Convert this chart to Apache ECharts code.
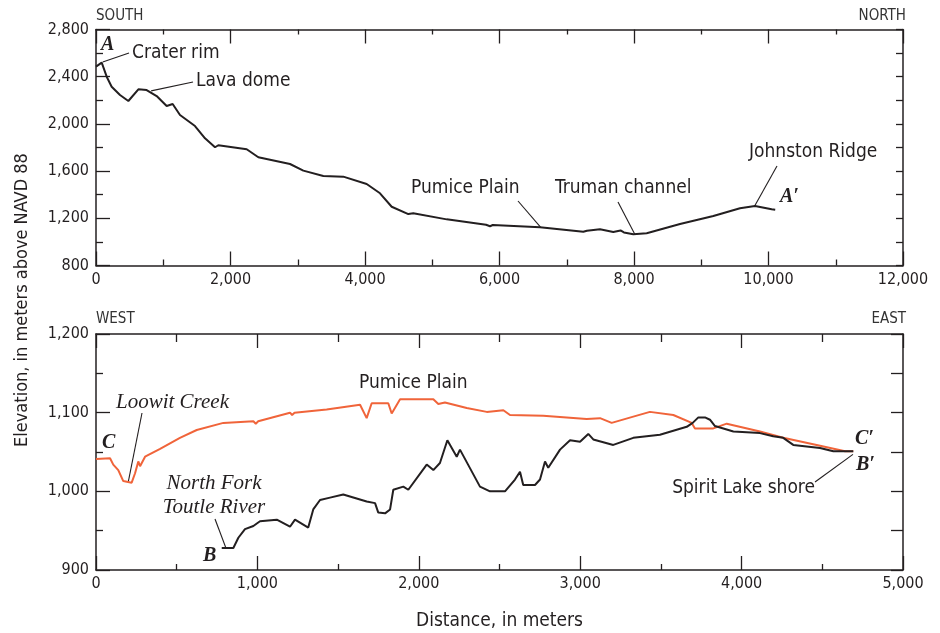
<!DOCTYPE html>
<html><head><meta charset="utf-8">
<script src="https://cdn.jsdelivr.net/npm/echarts@6/dist/echarts.min.js"></script>
<style>html,body{margin:0;padding:0;background:#fff}#c{width:940px;height:633px}</style>
</head><body><div id="c"></div>
<script>
// ---- Data: profile A–A' (distance m, elevation m) ----
const profileA_x = [0,85,159,233,357,481,630,753,902,1051,1140,1249,1472,1621,1770,1819,2241,2414,2885,3083,3380,3677,4025,4223,4397,4644,4718,5215,5800,5859,5900,6602,7246,7300,7494,7692,7800,7850,7990,8189,8684,9180,9576,9799,10047,10100];
const profileA_y = [2485,2519,2400,2315,2245,2194,2293,2287,2236,2152,2169,2075,1982,1878,1802,1819,1785,1717,1660,1604,1558,1553,1491,1412,1298,1236,1242,1191,1145,1133,1143,1124,1086,1095,1107,1084,1097,1080,1064,1073,1152,1219,1285,1304,1276,1272];
// ---- Profile C–C' (orange) ----
const profileC_x = [0,87,107,138,169,221,242,262,273,304,397,520,624,789,975,990,1005,1202,1215,1230,1429,1636,1677,1708,1811,1832,1884,2090,2121,2162,2297,2421,2524,2565,2771,3040,3123,3195,3329,3432,3577,3691,3711,3825,3908,4114,4258,4465,4641,4692];
const profileC_y = [1041,1042,1034,1027,1013,1011,1023,1038,1032,1044,1054,1068,1078,1087,1089,1086,1089,1100,1097,1100,1104,1110,1093,1112,1112,1099,1117,1117,1111,1113,1106,1101,1103,1097,1096,1092,1093,1087,1095,1101,1097,1087,1080,1080,1086,1076,1068,1059,1051,1051];
// ---- Profile B–B' (black) ----
const profileB_x = [779,851,882,923,975,1016,1120,1202,1233,1315,1346,1388,1450,1532,1677,1729,1749,1791,1822,1842,1904,1935,2049,2090,2131,2177,2235,2255,2379,2441,2534,2596,2627,2647,2720,2751,2782,2802,2875,2937,2999,3050,3081,3205,3329,3494,3660,3697,3732,3773,3804,3835,3949,4114,4196,4258,4320,4486,4568,4692];
const profileB_y = [928,928,941,952,956,962,964,955,964,954,977,989,992,996,987,985,973,972,977,1002,1006,1002,1034,1027,1036,1065,1044,1053,1006,1000,1000,1015,1025,1008,1008,1015,1038,1030,1053,1065,1063,1073,1066,1059,1068,1072,1082,1087,1094,1094,1091,1083,1076,1074,1070,1068,1059,1055,1051,1051];
// ---- Axis tick settings ----
const topX = {min:0, max:12000, interval:2000};
const topY = {min:800, max:2800, interval:400};
const botX = {min:0, max:5000, interval:1000};
const botY = {min:900, max:1200, interval:100};

const zip = (xs, ys) => xs.map((x,i)=>[x, ys[i]]);
const FONT = "'Liberation Sans Narrow','DejaVu Sans Condensed','Arial Narrow',sans-serif";
const SERIF = "'Liberation Serif','DejaVu Serif',serif";
const INK = '#231f20';
const ORANGE = '#f0643a';
const fmt = v => v.toLocaleString('en-US');

const axisLine = {show:true, onZero:false, lineStyle:{color:INK, width:1.5}};
function xAx(g, cfg, pos, long, short, labels, extra){
  return Object.assign({type:'value', gridIndex:g, position:pos, min:cfg.min, max:cfg.max, interval:cfg.interval,
    axisLine, splitLine:{show:false},
    axisTick:{show:true, inside:true, length:long, lineStyle:{color:INK, width:1.3}},
    minorTick:{show:true, splitNumber:2, length:short, lineStyle:{color:INK, width:1.3}},
    axisLabel:{show:labels, formatter:fmt, color:INK, fontFamily:FONT, fontSize:16, margin:6}}, extra||{});
}
function yAx(g, cfg, pos, long, short, labels){
  return {type:'value', gridIndex:g, position:pos, min:cfg.min, max:cfg.max, interval:cfg.interval,
    axisLine, splitLine:{show:false},
    axisTick:{show:true, inside:true, length:long, lineStyle:{color:INK, width:1.3}},
    minorTick:{show:true, splitNumber:2, length:short, lineStyle:{color:INK, width:1.3}},
    axisLabel:{show:labels, formatter:fmt, color:INK, fontFamily:FONT, fontSize:16, margin:7}};
}

const chart = echarts.init(document.getElementById('c'), null, {renderer:'canvas'});
const option = {
  backgroundColor:'#fff',
  animation:false,
  grid:[
    {left:96, right:37, top:29.5, height:236},
    {left:96, right:37, top:334, height:236}
  ],
  xAxis:[
    xAx(0, topX, 'bottom', 14, 6, true),
    xAx(0, topX, 'top', 14, 5, false),
    xAx(1, botX, 'bottom', 14, 6, true, {name:'Distance, in meters', nameLocation:'middle', nameGap:42,
      nameTextStyle:{color:INK, fontFamily:FONT, fontSize:19}}),
    xAx(1, botX, 'top', 14, 8, false)
  ],
  yAxis:[
    yAx(0, topY, 'left', 14, 7, true),
    yAx(0, topY, 'right', 7, 7, false),
    yAx(1, botY, 'left', 14, 7, true),
    yAx(1, botY, 'right', 12, 12, false)
  ],
  series:[
    {type:'line', xAxisIndex:0, yAxisIndex:0, data:zip(profileA_x, profileA_y), showSymbol:false, lineStyle:{color:INK, width:2}, z:3},
    {type:'line', xAxisIndex:2, yAxisIndex:2, data:zip(profileC_x, profileC_y), showSymbol:false, lineStyle:{color:ORANGE, width:2}, z:3},
    {type:'line', xAxisIndex:2, yAxisIndex:2, data:zip(profileB_x, profileB_y), showSymbol:false, lineStyle:{color:INK, width:2}, z:4}
  ]
};
chart.setOption(option);

// ---- Annotations ----
const LBL = 19;
const txt = (x, y, s, o) => ({type:'text', x, y, style:Object.assign({text:s, fill:INK, font:`${LBL}px ${FONT}`, textVerticalAlign:'middle'}, o||{})});
const lab = (x, y, s) => txt(x, y, s, {font:`bold italic 20px ${SERIF}`});
const it = (x, y, s, align) => txt(x, y, s, {font:`italic 21px ${SERIF}`, textAlign:align||'left'});
function leader(g, fromPx, dataPt){
  const p = chart.convertToPixel({gridIndex:g}, dataPt);
  return {type:'line', shape:{x1:fromPx[0], y1:fromPx[1], x2:p[0], y2:p[1]}, style:{stroke:INK, lineWidth:1.1}};
}
const dir = {font:`15px ${FONT}`, fill:'#333'};
const graphics = [
  txt(96, 16, 'SOUTH', dir),
  txt(906, 16, 'NORTH', Object.assign({textAlign:'right'}, dir)),
  txt(96, 319, 'WEST', dir),
  txt(906, 319, 'EAST', Object.assign({textAlign:'right'}, dir)),
  lab(101, 45, 'A'),
  txt(132, 53, 'Crater rim'),
  leader(0, [129, 53], [100, 2525]),
  txt(196, 81, 'Lava dome'),
  leader(0, [193, 82], [820, 2280]),
  txt(411, 188, 'Pumice Plain'),
  leader(0, [518, 201], [6610, 1126]),
  txt(555, 188, 'Truman channel'),
  leader(0, [618, 202], [8010, 1066]),
  txt(749, 152, 'Johnston Ridge'),
  leader(0, [777, 166], [9790, 1300]),
  lab(780, 197, 'A\u2032'),
  lab(102, 443, 'C'),
  it(116, 402, 'Loowit Creek'),
  leader(1, [142, 413], [200, 1012]),
  txt(359, 383, 'Pumice Plain'),
  it(214, 483, 'North Fork', 'center'),
  it(214, 507, 'Toutle River', 'center'),
  leader(1, [215, 519], [805, 928]),
  lab(203, 556, 'B'),
  lab(855, 439, 'C\u2032'),
  lab(856, 465, 'B\u2032'),
  txt(815, 488, 'Spirit Lake shore', {textAlign:'right'}),
  leader(1, [815, 482], [4690, 1047]),
  {type:'text', x:22, y:300, rotation:Math.PI/2,
    style:{text:'Elevation, in meters above NAVD 88', fill:INK, font:`18px ${FONT}`, textAlign:'center', textVerticalAlign:'middle'}}
];
chart.setOption({graphic:graphics});
</script>
</body></html>
